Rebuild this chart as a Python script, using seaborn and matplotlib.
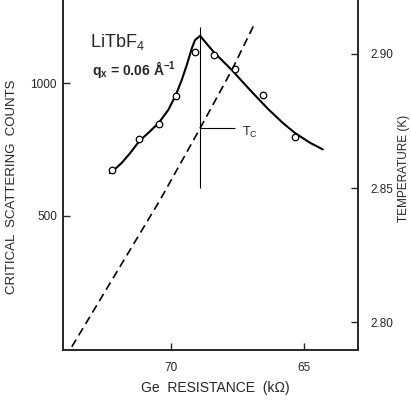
import numpy as np
import pandas as pd
import matplotlib
matplotlib.use("Agg")
import matplotlib.pyplot as plt
import seaborn as sns

# measured points: Ge resistance (kOhm) vs critical scattering counts
resistance_pts = [72.21, 71.19, 70.46, 69.82, 69.11, 68.39, 67.60, 66.54, 65.34]
counts_pts = [673, 789, 847, 953, 1117, 1106, 1054, 956, 799]

# solid guide curve through the points
resistance_fit = [72.29, 72.10, 71.85, 71.55, 71.19, 70.80, 70.46, 70.10, 69.82, 69.60, 69.41,
                  69.22, 69.10, 68.91, 68.41, 67.72, 67.04, 66.35, 65.80, 65.34, 64.79, 64.31]
counts_fit = [661, 677, 700, 735, 782, 818, 851, 900, 956, 1012, 1069,
              1132, 1163, 1179, 1119, 1050, 975, 902, 850, 812, 776, 751]

# thermometer calibration (dashed, right axis)
resistance_cal = [73.72, 70.41, 68.91, 67.72, 66.89]
temperature_cal = [2.7909, 2.8456, 2.8723, 2.8940, 2.9108]

# Tc marker
tc_resistance = 68.91
tc_counts_span = [605, 1213]
tc_tick_resistance = [68.91, 67.60]
tc_tick_counts = 830

sns.set_style("ticks")
plt.rcParams['font.family'] = ['Liberation Sans', 'DejaVu Sans']
plt.rcParams['mathtext.fontset'] = 'custom'
plt.rcParams['mathtext.rm'] = 'Liberation Sans'
plt.rcParams['mathtext.bf'] = 'Liberation Sans:bold'

fit_df = pd.DataFrame({"R": resistance_fit, "C": counts_fit})
pts_df = pd.DataFrame({"R": resistance_pts, "C": counts_pts})
cal_df = pd.DataFrame({"R": resistance_cal, "T": temperature_cal})

fig = plt.figure(figsize=(4.11, 4.0), dpi=100)
ax = fig.add_axes([63 / 411, 50 / 400, 295 / 411, 350 / 400])
ax2 = ax.twinx()

sns.lineplot(data=fit_df, x="R", y="C", sort=False, estimator=None,
             color="black", linewidth=1.5, ax=ax)
sns.scatterplot(data=pts_df, x="R", y="C", marker="o", s=22,
                facecolor="white", edgecolor="black", linewidth=0.9, ax=ax, zorder=3)
ax.vlines(tc_resistance, tc_counts_span[0], tc_counts_span[1], color="black", linewidth=0.8)
ax.hlines(tc_tick_counts, tc_tick_resistance[0], tc_tick_resistance[1], color="black", linewidth=0.8)

sns.lineplot(data=cal_df, x="R", y="T", sort=False, estimator=None,
             color="black", linewidth=1.2, linestyle=(0, (5, 3)), ax=ax2)

ax.set_xlim(74.05, 62.99)
ax.set_ylim(-5, 1314)
ax2.set_ylim(2.7897, 2.9201)

ax.set_xticks([70, 65])
ax.set_xticklabels(["70", "65"])
ax.set_yticks([500, 1000])
ax.set_yticklabels(["500", "1000"])
ax2.set_yticks([2.80, 2.85, 2.90])
ax2.set_yticklabels(["2.80", "2.85", "2.90"])

ax.tick_params(axis='x', direction='in', length=5, width=1, labelsize=8.5, pad=8.6)
ax.tick_params(axis='y', direction='in', length=5, width=1, labelsize=8.5, pad=4.3)
ax2.tick_params(axis='y', direction='in', length=5, width=1, labelsize=8.5, pad=8.6)

for a in (ax, ax2):
    a.spines['top'].set_visible(False)
    for s in ('left', 'right', 'bottom'):
        a.spines[s].set_linewidth(1.2)

ax.set_xlabel("Ge  RESISTANCE  (k\u03a9)", fontsize=10)
ax.set_ylabel("CRITICAL  SCATTERING  COUNTS", fontsize=9.5)
ax2.set_ylabel("TEMPERATURE (K)", fontsize=8.5, rotation=90)
ax.xaxis.set_label_coords(0.515, -0.089)
ax.yaxis.set_label_coords(-0.153, 0.466)
ax2.yaxis.set_label_coords(1.136, 0.52)

ax.text(0.092, 0.866, "LiTbF$_4$", transform=ax.transAxes, fontsize=13, va='baseline')
ax.text(0.098, 0.786, r"$\mathbf{q_x}$ = 0.06 Å$^{\mathbf{-1}}$", transform=ax.transAxes,
        fontsize=10, fontweight='bold', va='baseline')
ax.text(67.34, 816, "T$_\\mathrm{C}$", fontsize=9, va='center', ha='left')

fig.savefig("out.png", dpi=100)
